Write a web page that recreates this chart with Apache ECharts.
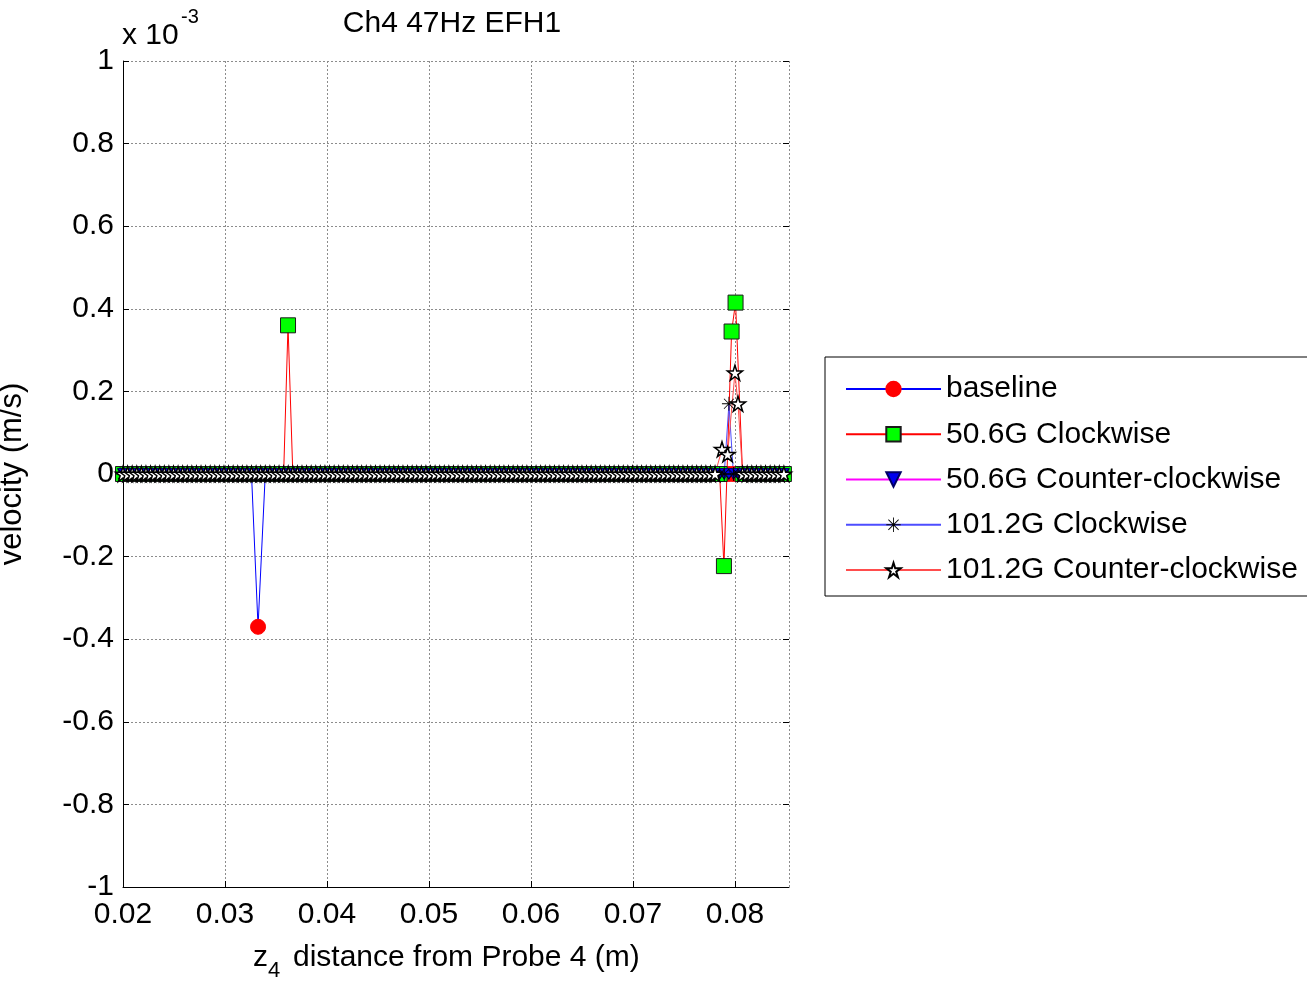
<!DOCTYPE html>
<html>
<head>
<meta charset="utf-8">
<script src="https://cdn.jsdelivr.net/npm/echarts@6/dist/echarts.min.js"></script>
<style>
html,body{margin:0;padding:0;background:#fff;}
#chart{width:1307px;height:981px;}
</style>
</head>
<body>
<div id="chart"></div>
<script>
// ---- data (velocity in units of 1e-3 m/s, position in m) ----
const seriesNames = ['baseline', '50.6G Clockwise', '50.6G Counter-clockwise', '101.2G Clockwise', '101.2G Counter-clockwise'];
const gridStart = 0.02;
const gridStep = 0.00045;
const gridCount = 145;
// non-zero samples [position, velocity]
const baselineSpikes = [[0.03324, -0.37]];
const cw506Spikes = [[0.03618, 0.36], [0.07892, -0.223], [0.07967, 0.345], [0.08006, 0.415]];
const ccw506Spikes = [];
const cw1012Spikes = [[0.07941, 0.17]];
const ccw1012Spikes = [[0.07873, 0.06], [0.07928, 0.048], [0.08, 0.245], [0.0803, 0.17]];
const xTicks = [0.02, 0.03, 0.04, 0.05, 0.06, 0.07, 0.08];
const yTicks = [-1, -0.8, -0.6, -0.4, -0.2, 0, 0.2, 0.4, 0.6, 0.8, 1];

function buildSeries(spikes) {
  const pts = [];
  for (let k = 0; k < gridCount; k++) {
    const x = gridStart + k * gridStep;
    if (spikes.some(s => Math.abs(s[0] - x) < 0.65 * gridStep)) continue;
    pts.push([x, 0]);
  }
  spikes.forEach(s => pts.push([s[0], s[1]]));
  pts.sort((a, b) => a[0] - b[0]);
  return pts;
}

const FONT = '"Liberation Sans", Arial, Helvetica, sans-serif';
const starPath = 'path://M10,0L12.245,6.91L19.51,6.91L13.63,11.18L15.88,18.09L10,13.82L4.12,18.09L6.37,11.18L0.49,6.91L7.755,6.91Z';
const asteriskPath = 'path://M0,9.4L20,9.4L20,10.6L0,10.6Z M9.4,0L10.6,0L10.6,20L9.4,20Z M2.5,3.3L3.3,2.5L17.5,16.7L16.7,17.5Z M16.7,2.5L17.5,3.3L3.3,17.5L2.5,16.7Z';

const chart = echarts.init(document.getElementById('chart'), null, {renderer: 'canvas'});

const series = [
  {name: seriesNames[0], data: buildSeries(baselineSpikes), color: '#0000ff',
   symbol: 'circle', symbolSize: 15, itemStyle: {color: '#ff0000', borderColor: '#ff0000', borderWidth: 1}},
  {name: seriesNames[1], data: buildSeries(cw506Spikes), color: '#ff0000',
   symbol: 'rect', symbolSize: 15, itemStyle: {color: '#00ff00', borderColor: '#1a1a1a', borderWidth: 1}},
  {name: seriesNames[2], data: buildSeries(ccw506Spikes), color: '#ff00ff',
   symbol: 'triangle', symbolRotate: 180, symbolSize: 11, itemStyle: {color: '#0000ee', borderColor: '#000066', borderWidth: 1}},
  {name: seriesNames[3], data: buildSeries(cw1012Spikes), color: '#4d4dff',
   symbol: asteriskPath, symbolSize: 14, itemStyle: {color: '#000000', borderWidth: 0}},
  {name: seriesNames[4], data: buildSeries(ccw1012Spikes), color: '#ff4d4d',
   symbol: starPath, symbolSize: 15, itemStyle: {color: '#ffffff', borderColor: '#000000', borderWidth: 1.5}}
].map(s => ({
  type: 'line',
  name: s.name,
  data: s.data,
  symbol: s.symbol,
  symbolSize: s.symbolSize,
  symbolRotate: s.symbolRotate || 0,
  showAllSymbol: true,
  animation: false,
  lineStyle: {color: s.color, width: 1},
  itemStyle: s.itemStyle,
  emphasis: {disabled: true},
  xAxisIndex: 0, yAxisIndex: 0
}));

const option = {
  animation: false,
  backgroundColor: '#ffffff',
  textStyle: {fontFamily: FONT},
  grid: {left: 123, right: 518, top: 61, bottom: 94, containLabel: false, outerBoundsMode: 'none'},
  xAxis: [{
    type: 'value', min: 0.02, max: 0.0853, interval: 0.01,
    axisLine: {show: true, onZero: false, lineStyle: {color: '#000', width: 1}},
    axisTick: {show: true, inside: true, length: 6, lineStyle: {color: '#000'}},
    axisLabel: {show: true, color: '#000', fontSize: 30, fontFamily: FONT, margin: 13, showMaxLabel: false,
      formatter: v => v.toFixed(2)},
    splitLine: {show: true, lineStyle: {color: '#8c8c8c', type: [2, 2], width: 1}}
  }, {
    type: 'value', position: 'top', min: 0.02, max: 0.0853, interval: 0.01,
    axisLine: {show: false},
    axisTick: {show: true, inside: true, length: 6, lineStyle: {color: '#000'}},
    axisLabel: {show: false}, splitLine: {show: false}
  }],
  yAxis: [{
    type: 'value', min: -1, max: 1, interval: 0.2,
    name: 'velocity (m/s)', nameLocation: 'middle', nameGap: 95,
    nameTextStyle: {color: '#000', fontSize: 31, fontFamily: FONT},
    axisLine: {show: true, onZero: false, lineStyle: {color: '#000', width: 1}},
    axisTick: {show: true, inside: true, length: 6, lineStyle: {color: '#000'}},
    axisLabel: {show: true, color: '#000', fontSize: 30, fontFamily: FONT, margin: 9,
      formatter: v => String(Number(v.toFixed(1)))},
    splitLine: {show: true, lineStyle: {color: '#8c8c8c', type: [2, 2], width: 1}}
  }, {
    type: 'value', position: 'right', min: -1, max: 1, interval: 0.2,
    axisLine: {show: false},
    axisTick: {show: true, inside: true, length: 6, lineStyle: {color: '#000'}},
    axisLabel: {show: false}, splitLine: {show: false}
  }],
  legend: {
    show: true, orient: 'vertical', left: 825, top: 357,
    data: seriesNames,
    backgroundColor: '#ffffff', borderColor: '#000', borderWidth: 1,
    padding: [17, 40, 11, 20],
    itemWidth: 95, itemHeight: 18, itemGap: 15.25,
    selectedMode: false,
    textStyle: {color: '#000', fontSize: 30, fontFamily: FONT, lineHeight: 30}
  },
  graphic: [
    {type: 'text', x: 452, y: 24, style: {text: 'Ch4 47Hz EFH1', fill: '#000', font: '30px ' + FONT, textAlign: 'center', textVerticalAlign: 'middle'}},
    {type: 'text', x: 122, y: 36, style: {text: 'x 10', fill: '#000', font: '30px ' + FONT, textAlign: 'left', textVerticalAlign: 'middle'}},
    {type: 'text', x: 181, y: 17, style: {text: '-3', fill: '#000', font: '20px ' + FONT, textAlign: 'left', textVerticalAlign: 'middle'}},
    {type: 'text', x: 253, y: 958, style: {text: 'z', fill: '#000', font: '30px ' + FONT, textAlign: 'left', textVerticalAlign: 'middle'}},
    {type: 'text', x: 268, y: 971, style: {text: '4', fill: '#000', font: '22px ' + FONT, textAlign: 'left', textVerticalAlign: 'middle'}},
    {type: 'text', x: 293, y: 958, style: {text: 'distance from Probe 4 (m)', fill: '#000', font: '30px ' + FONT, textAlign: 'left', textVerticalAlign: 'middle'}}
  ],
  series: series
};
chart.setOption(option);
</script>
</body>
</html>
